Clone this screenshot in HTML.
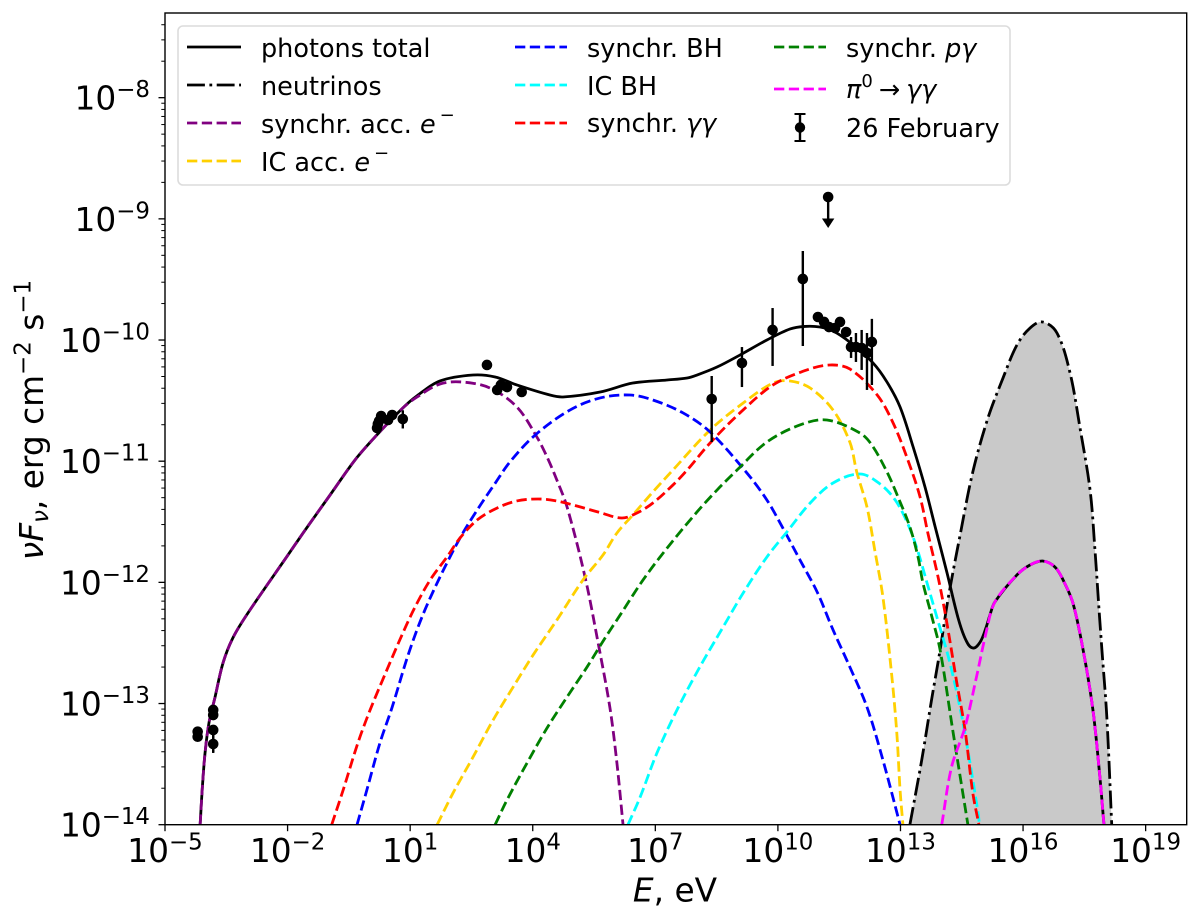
<!DOCTYPE html>
<html>
<head>
<meta charset="utf-8">
<title>Spectral energy distribution</title>
<style>
html,body{margin:0;padding:0;background:#fff;}
svg{display:block;}
text{font-family:"DejaVu Sans","Liberation Sans",sans-serif;fill:#000;}
.it{font-style:italic;}
.leg{font-size:25.5px;}
</style>
</head>
<body>
<svg id="chart" xmlns="http://www.w3.org/2000/svg" width="1200" height="923" viewBox="0 0 1200 923">
  <defs><clipPath id="plot-clip"><rect x="165" y="13" width="1021.7" height="811.7"/></clipPath></defs>
  <rect x="0" y="0" width="1200" height="923" fill="#fff"/>
  <g id="marks" clip-path="url(#plot-clip)"></g>
  <g id="points"></g>
  <g id="ticks"></g>
  <rect x="165" y="13" width="1021.7" height="811.7" fill="none" stroke="#000" stroke-width="1.4"/>

  <text x="675" y="901.5" text-anchor="middle" font-size="32.8"><tspan class="it">E</tspan>, eV</text>
  <text transform="translate(43,420) rotate(-90)" text-anchor="middle" font-size="32.8"><tspan class="it">νF</tspan><tspan class="it" font-size="22.9" dy="5">ν</tspan><tspan dy="-5">, erg cm</tspan><tspan font-size="22.9" dy="-12.5">−2</tspan><tspan dy="12.5"> s</tspan><tspan font-size="22.9" dy="-12.5">−1</tspan></text>

  <g>
    <rect x="178" y="26" width="832" height="159" rx="5" ry="5" fill="#fff" fill-opacity="0.8" stroke="#dcdcdc" stroke-width="1.6"/>

    <g>
      <line x1="187" y1="47" x2="241" y2="47" stroke="#000" stroke-width="2.8"/>
      <text class="leg" x="261" y="57">photons total</text>
    </g>
    <g>
      <line x1="187" y1="85" x2="241" y2="85" stroke="#000" stroke-width="2.8" stroke-dasharray="17.9 4.5 2.8 4.5"/>
      <text class="leg" x="261" y="95">neutrinos</text>
    </g>
    <g>
      <line x1="187" y1="123" x2="241" y2="123" stroke="#800080" stroke-width="2.8" stroke-dasharray="10.3 4.5"/>
      <text class="leg" x="261" y="133">synchr. acc. <tspan class="it">e</tspan><tspan font-size="18" dx="4" dy="-12">−</tspan></text>
    </g>
    <g>
      <line x1="187" y1="161" x2="241" y2="161" stroke="#ffd000" stroke-width="2.8" stroke-dasharray="10.3 4.5"/>
      <text class="leg" x="261" y="171">IC acc. <tspan class="it">e</tspan><tspan font-size="18" dx="4" dy="-12">−</tspan></text>
    </g>

    <g>
      <line x1="515" y1="47" x2="567" y2="47" stroke="#0000ff" stroke-width="2.8" stroke-dasharray="10.3 4.5"/>
      <text class="leg" x="587" y="57">synchr. BH</text>
    </g>
    <g>
      <line x1="515" y1="85" x2="567" y2="85" stroke="#00ffff" stroke-width="2.8" stroke-dasharray="10.3 4.5"/>
      <text class="leg" x="587" y="95">IC BH</text>
    </g>
    <g>
      <line x1="515" y1="123" x2="567" y2="123" stroke="#ff0000" stroke-width="2.8" stroke-dasharray="10.3 4.5"/>
      <text class="leg" x="587" y="132">synchr. <tspan class="it">γγ</tspan></text>
    </g>

    <g>
      <line x1="774" y1="47" x2="826" y2="47" stroke="#008000" stroke-width="2.8" stroke-dasharray="10.3 4.5"/>
      <text class="leg" x="846" y="57">synchr. <tspan class="it">pγ</tspan></text>
    </g>
    <g>
      <line x1="774" y1="89" x2="826" y2="89" stroke="#ff00ff" stroke-width="2.8" stroke-dasharray="10.3 4.5"/>
      <text class="leg" x="846" y="98"><tspan class="it">π</tspan><tspan font-size="18" dy="-11">0</tspan><tspan dx="6" dy="11">→</tspan><tspan class="it" dx="6">γγ</tspan></text>
    </g>
    <g>
      <line x1="800" y1="114" x2="800" y2="141" stroke="#000" stroke-width="2.4"/>
      <line x1="794.5" y1="114" x2="805.5" y2="114" stroke="#000" stroke-width="2"/>
      <line x1="794.5" y1="141" x2="805.5" y2="141" stroke="#000" stroke-width="2"/>
      <circle cx="800" cy="127.5" r="5.2" fill="#000"/>
      <text class="leg" x="846" y="137">26 February</text>
    </g>
  </g>
</svg>
<script>
// ---- tick data (decades) ----
const xTickExponents = [-5, -2, 1, 4, 7, 10, 13, 16, 19];
const xTickLabels = ["−5", "−2", "1", "4", "7", "10", "13", "16", "19"];
const yTickExponents = [-14, -13, -12, -11, -10, -9, -8];
const yTickLabels = ["−14", "−13", "−12", "−11", "−10", "−9", "−8"];
const minorMultipliers = [2, 3, 4, 5, 6, 7, 8, 9];

// ---- model curves: log10(E/eV) and log10(nuFnu) ----
const photonsLogE = [-4.14,-4.09,-4.02,-3.92,-3.78,-3.58,-3.34,-2.97,-1.99,-1.57,-0.96,-0.35,0.14,0.82,1.17,1.73,2.54,3.08,3.61,4.42,4.74,5.65,6.45,7.29,7.78,8.02,8.51,9.07,9.73,10.30,10.66,11.03,11.35,11.76,12.33,12.67,12.99,13.31,13.60,13.85,14.14,14.41,14.60,14.77,14.95,15.09,15.19,15.31,15.85,16.17,16.48,16.78,16.98,17.22,17.47,17.71,17.88,17.98];
const photonsLogF = [-14,-13.714,-13.408,-13.152,-12.954,-12.665,-12.459,-12.253,-11.774,-11.568,-11.279,-10.990,-10.800,-10.561,-10.460,-10.338,-10.289,-10.305,-10.371,-10.454,-10.470,-10.429,-10.355,-10.330,-10.313,-10.289,-10.223,-10.124,-10.0,-9.909,-9.888,-9.893,-9.926,-10.018,-10.190,-10.347,-10.553,-10.883,-11.213,-11.543,-11.923,-12.294,-12.476,-12.542,-12.492,-12.377,-12.269,-12.162,-11.939,-11.857,-11.824,-11.873,-11.980,-12.170,-12.558,-13.053,-13.606,-14];

const neutrinosLogE = [13.23,13.52,13.76,13.97,14.16,14.45,14.77,15.14,15.51,15.85,16.17,16.48,16.83,17.15,17.39,17.64,17.76,17.86,17.93,18.05,18.17];
const neutrinosLogF = [-14,-13.466,-12.971,-12.558,-12.146,-11.626,-11.089,-10.644,-10.313,-10.041,-9.901,-9.851,-9.942,-10.272,-10.718,-11.238,-11.733,-12.228,-12.558,-13.111,-14];

const synchrAccLogE = [-4.14,-4.09,-4.02,-3.92,-3.78,-3.58,-3.34,-2.97,-1.99,-1.57,-0.96,-0.35,0.14,0.82,1.17,1.73,2.29,2.95,3.61,4.10,4.35,4.59,4.84,5.28,5.60,5.89,6.06,6.21];
const synchrAccLogF = [-14,-13.714,-13.408,-13.152,-12.954,-12.665,-12.459,-12.253,-11.774,-11.568,-11.279,-10.990,-10.800,-10.561,-10.470,-10.363,-10.347,-10.396,-10.552,-10.800,-10.965,-11.155,-11.378,-11.956,-12.500,-13.037,-13.491,-14];

const icAccLogE = [1.66,2.05,2.54,3.03,3.52,4.01,4.59,5.23,5.72,6.06,6.45,6.94,7.43,8.34,9.15,9.88,10.30,10.79,11.35,11.76,11.93,12.18,12.37,12.57,12.79,12.91,12.99,13.06];
const icAccLogF = [-14,-13.738,-13.441,-13.136,-12.864,-12.599,-12.311,-11.980,-11.774,-11.593,-11.444,-11.254,-11.073,-10.743,-10.520,-10.355,-10.338,-10.396,-10.578,-10.842,-11.089,-11.378,-11.733,-12.121,-12.781,-13.243,-13.714,-14];

const synchrBhLogE = [-0.30,-0.06,0.26,0.56,0.95,1.31,1.73,2.22,2.64,3.10,3.44,4.06,4.91,5.65,6.38,6.94,7.68,8.34,9.24,9.73,10.12,10.54,10.96,11.35,11.76,12.18,12.57,12.99];
const synchrBhLogF = [-14,-13.714,-13.326,-13.029,-12.599,-12.269,-11.956,-11.634,-11.403,-11.172,-11.007,-10.784,-10.578,-10.478,-10.454,-10.495,-10.602,-10.759,-11.097,-11.320,-11.551,-11.815,-12.079,-12.393,-12.698,-13.029,-13.466,-14];

const icBhLogE = [6.33,6.63,7.04,7.53,8.09,8.66,9.15,9.73,10.22,10.79,11.35,12.01,12.50,12.87,13.16,13.40,13.65,13.89,14.21,14.53,14.90,14.93];
const icBhLogF = [-14,-13.771,-13.408,-13.053,-12.698,-12.368,-12.088,-11.791,-11.584,-11.345,-11.180,-11.106,-11.188,-11.320,-11.502,-11.716,-12.005,-12.286,-12.665,-13.161,-13.903,-14];

const synchrGgLogE = [-0.92,-0.64,-0.28,0.02,0.43,0.80,1.12,1.49,1.90,2.22,2.64,3.13,3.61,4.13,4.59,5.08,5.65,6.18,6.55,6.94,7.43,7.78,8.34,9.07,9.88,10.71,11.28,11.76,12.43,12.82,13.18,13.48,13.67,13.92,14.11,14.38,14.58,14.77,14.92];
const synchrGgLogF = [-14,-13.714,-13.326,-13.053,-12.723,-12.434,-12.203,-11.980,-11.791,-11.634,-11.485,-11.386,-11.328,-11.312,-11.328,-11.370,-11.424,-11.469,-11.428,-11.345,-11.197,-11.073,-10.850,-10.602,-10.371,-10.247,-10.206,-10.239,-10.454,-10.685,-10.990,-11.296,-11.593,-11.956,-12.286,-12.831,-13.218,-13.738,-14];

const synchrPgLogE = [3.08,3.37,3.86,4.35,4.84,5.33,5.77,6.14,6.70,7.29,8.02,8.51,9.0,9.73,10.54,11.20,12.01,12.30,12.67,12.94,13.23,13.43,13.55,13.77,13.97,14.29,14.65];
const synchrPgLogF = [-14,-13.796,-13.491,-13.202,-12.946,-12.698,-12.459,-12.269,-11.980,-11.716,-11.419,-11.238,-11.073,-10.842,-10.701,-10.660,-10.768,-10.867,-11.089,-11.296,-11.543,-11.791,-12.005,-12.286,-12.558,-13.243,-14];

const pionLogE = [14.01,14.25,14.58,14.86,15.11,15.31,15.85,16.17,16.48,16.78,16.98,17.22,17.47,17.71,17.88,17.98];
const pionLogF = [-14,-13.524,-13.194,-12.781,-12.393,-12.162,-11.939,-11.857,-11.824,-11.873,-11.980,-12.170,-12.558,-13.053,-13.606,-14];

// ---- observations: log10 values with absolute error-bar ends (null = no visible bar) ----
const obsLogE = [-4.20,-4.20,-3.82,-3.82,-3.82,-3.82,0.19,0.21,0.24,0.29,0.46,0.56,0.82,2.88,3.13,3.22,3.37,3.73,8.38,9.12,9.87,10.61,10.98,11.13,11.25,11.40,11.52,11.67,11.79,11.91,12.05,12.18,12.30];
const obsLogF = [-13.232,-13.274,-13.053,-13.095,-13.218,-13.334,-10.726,-10.693,-10.668,-10.627,-10.660,-10.619,-10.652,-10.206,-10.412,-10.371,-10.388,-10.429,-10.487,-10.190,-9.917,-9.496,-9.810,-9.851,-9.893,-9.901,-9.851,-9.934,-10.058,-10.058,-10.066,-10.107,-10.016];
const obsErrHigh = [null,null,null,null,-13.26,-13.26,null,null,null,null,null,null,-10.58,null,null,null,null,null,-10.297,-10.058,-9.736,-9.265,null,null,null,null,null,null,-9.975,-9.942,-9.917,-9.942,-9.826];
const obsErrLow = [null,null,null,null,-13.40,-13.408,null,null,null,null,null,null,-10.73,null,null,null,null,null,-10.842,-10.388,-10.214,-10.049,null,null,null,null,null,null,-10.148,-10.181,-10.247,-10.412,-10.371];
const limitLogE = [11.23];
const limitLogF = [-8.820];
const limitArrowLogF = [-9.075];

// ---- axis functions ----
const xAxis = v => 165 + (v + 5) * 40.86;
const yAxis = v => 824.7 - (v + 14) * 121.17;

const SVGNS = "http://www.w3.org/2000/svg";
const marks = document.getElementById("marks");
const points = document.getElementById("points");
const ticks = document.getElementById("ticks");

function mk(tag, attrs, parent) {
  const el = document.createElementNS(SVGNS, tag);
  for (const k in attrs) el.setAttribute(k, attrs[k]);
  parent.appendChild(el);
  return el;
}

function smoothPath(logE, logF) {
  const p = logE.map((e, i) => [xAxis(e), yAxis(logF[i])]);
  const n = p.length;
  const tan = p.map((q, i) => {
    const a = p[Math.max(0, i - 1)], b = p[Math.min(n - 1, i + 1)];
    const dx = b[0] - a[0], dy = b[1] - a[1], l = Math.hypot(dx, dy) || 1;
    return [dx / l, dy / l];
  });
  let d = "M" + p[0][0].toFixed(2) + " " + p[0][1].toFixed(2);
  for (let i = 0; i < n - 1; i++) {
    const L = Math.hypot(p[i + 1][0] - p[i][0], p[i + 1][1] - p[i][1]) / 3;
    d += "C" + (p[i][0] + tan[i][0] * L).toFixed(2) + " " + (p[i][1] + tan[i][1] * L).toFixed(2) + " " +
      (p[i + 1][0] - tan[i + 1][0] * L).toFixed(2) + " " + (p[i + 1][1] - tan[i + 1][1] * L).toFixed(2) + " " +
      p[i + 1][0].toFixed(2) + " " + p[i + 1][1].toFixed(2);
  }
  return d;
}

// neutrino shaded area
const fillEl = mk("path", { d: smoothPath(neutrinosLogE, neutrinosLogF) + "Z", fill: "#c9c9c9", stroke: "none" }, marks);



const DASH = "10.3 4.5";
const curves = [
  ["photons-total-curve", photonsLogE, photonsLogF, "#000000", "none"],
  ["neutrinos-curve", neutrinosLogE, neutrinosLogF, "#000000", "17.9 4.5 2.8 4.5"],
  ["synchr-acc-curve", synchrAccLogE, synchrAccLogF, "#800080", DASH],
  ["ic-acc-curve", icAccLogE, icAccLogF, "#ffd000", DASH],
  ["synchr-bh-curve", synchrBhLogE, synchrBhLogF, "#0000ff", DASH],
  ["ic-bh-curve", icBhLogE, icBhLogF, "#00ffff", DASH],
  ["synchr-gamma-gamma-curve", synchrGgLogE, synchrGgLogF, "#ff0000", DASH],
  ["synchr-p-gamma-curve", synchrPgLogE, synchrPgLogF, "#008000", DASH],
  ["pion-decay-curve", pionLogE, pionLogF, "#ff00ff", DASH]
];
curves.forEach(c => {
  const el = mk("path", { d: smoothPath(c[1], c[2]), fill: "none", stroke: c[3], "stroke-width": 2.8, "stroke-dasharray": c[4] }, marks);
  
  
});

// observations
obsLogE.forEach((e, i) => {
  const cx = xAxis(e);
  if (obsErrHigh[i] !== null) {
    const bar = mk("line", { x1: cx, x2: cx, y1: yAxis(obsErrHigh[i]), y2: yAxis(obsErrLow[i]), stroke: "#000", "stroke-width": 2.4 }, points);
    
    
  }
  const dot = mk("circle", { cx: cx, cy: yAxis(obsLogF[i]), r: 5.3, fill: "#000" }, points);
  
  
});

// upper limit
limitLogE.forEach((e, i) => {
  const cx = xAxis(e), top = yAxis(limitLogF[i]), tip = yAxis(limitArrowLogF[i]);
  const stem = mk("line", { x1: cx, x2: cx, y1: top, y2: tip - 6, stroke: "#000", "stroke-width": 2.4 }, points);
  
  
  const head = mk("polygon", { points: (cx - 6.2) + "," + (tip - 9.5) + " " + (cx + 6.2) + "," + (tip - 9.5) + " " + cx + "," + tip, fill: "#000" }, points);
  
  
  const dot = mk("circle", { cx: cx, cy: top, r: 5.3, fill: "#000" }, points);
  
  
});

// ticks
xTickExponents.forEach((v, i) => {
  const px = xAxis(v);
  const tick = mk("line", { x1: px, x2: px, y1: 824.7, y2: 831.2, stroke: "#000", "stroke-width": 1.3 }, ticks);
  
  
  const label = mk("text", { x: px, y: 862, "text-anchor": "middle", "font-size": 32.8 }, ticks);
  
  
  label.appendChild(document.createTextNode("10"));
  const sup = mk("tspan", { "font-size": 22.9, dy: -12.5 }, label);
  sup.textContent = xTickLabels[i];
});
yTickExponents.forEach((v, i) => {
  const py = yAxis(v);
  const tick = mk("line", { x1: 158.5, x2: 165, y1: py, y2: py, stroke: "#000", "stroke-width": 1.3 }, ticks);
  
  
  const label = mk("text", { x: 150, y: py + 12, "text-anchor": "end", "font-size": 32.8 }, ticks);
  
  
  label.appendChild(document.createTextNode("10"));
  const sup = mk("tspan", { "font-size": 22.9, dy: -12.5 }, label);
  sup.textContent = yTickLabels[i];
  minorMultipliers.forEach(m => {
    const my = yAxis(v + Math.log10(m));
    if (my < 13) return;
    const minor = mk("line", { x1: 161.3, x2: 165, y1: my, y2: my, stroke: "#000", "stroke-width": 1 }, ticks);
    
    
  });
});
</script>
</body>
</html>
